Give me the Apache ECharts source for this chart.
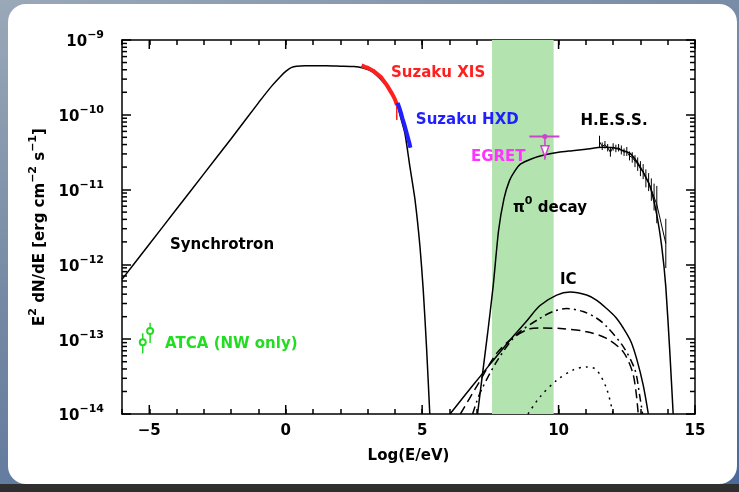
<!DOCTYPE html>
<html><head><meta charset="utf-8">
<script src="https://cdn.jsdelivr.net/npm/echarts@6/dist/echarts.min.js"></script>
<style>
html,body{margin:0;padding:0;width:739px;height:492px;overflow:hidden;}
body{background:linear-gradient(160deg,#9aa8b8 0%,#7489a4 40%,#4b6898 100%);position:relative;}
#bottom{position:absolute;left:0;right:0;bottom:0;height:8px;background:#2f2f2f;}
#panel{position:absolute;left:8px;top:4px;width:729px;height:480px;background:#fff;border-radius:18px;}
#chart{position:absolute;left:0;top:0;width:739px;height:492px;}
</style></head><body>
<div id="bottom"></div><div id="panel"></div><div id="chart"></div>
<script>
// ---- data (x = log10(E/eV), y = log10(E^2 dN/dE [erg cm^-2 s^-1])) ----
const bandStart = 7.56, bandEnd = 9.82;

const synX = [-6,-5,-4,-3,-2,-1,-0.5,-0.2,0,0.2,0.4,0.7,1,1.5,2,2.5,2.8,3.1,3.33,3.7,4.07,4.2,4.37,4.55,4.74,4.92,5.04,5.16,5.28];
const synY = [-12.2,-11.73,-11.26,-10.79,-10.32,-9.84,-9.61,-9.49,-9.42,-9.37,-9.35,-9.345,-9.345,-9.345,-9.35,-9.355,-9.37,-9.41,-9.47,-9.62,-9.85,-10.02,-10.25,-10.69,-11.14,-11.76,-12.34,-13.1,-14];

const xisX = [2.78,2.9,3.0,3.1,3.2,3.3,3.4,3.5,3.6,3.7,3.8,3.9,4.0,4.08];
const xisY = [-9.34,-9.36,-9.37,-9.39,-9.41,-9.44,-9.47,-9.5,-9.55,-9.6,-9.66,-9.72,-9.79,-9.87];
const xisErrX = [4.07], xisErrLo = [-10.07], xisErrHi = [-9.85];

const hxdX = [4.1,4.16,4.22,4.28,4.34,4.4,4.46,4.52,4.57];
const hxdY = [-9.84,-9.9,-9.97,-10.05,-10.12,-10.2,-10.28,-10.36,-10.44];

const pionX = [7.03,7.2,7.4,7.6,7.8,8.0,8.2,8.4,8.6,9.0,9.5,10.0,10.5,11.0,11.6,12.0,12.3,12.62,12.98,13.35,13.59,13.78,13.93,14.08,14.2];
const pionY = [-14,-13.5,-12.92,-12.3,-11.55,-11.12,-10.88,-10.75,-10.66,-10.59,-10.535,-10.5,-10.48,-10.46,-10.435,-10.44,-10.47,-10.515,-10.69,-10.96,-11.32,-11.76,-12.3,-13.19,-14];

const hessX = [11.5,11.6,11.7,11.8,11.9,12.0,12.1,12.2,12.3,12.4,12.5,12.6,12.7,12.8,12.9,13.0,13.1,13.2,13.3,13.4,13.5,13.6,13.93];
const hessY = [-10.36,-10.42,-10.4,-10.44,-10.5,-10.43,-10.45,-10.44,-10.47,-10.5,-10.49,-10.55,-10.57,-10.62,-10.66,-10.72,-10.76,-10.85,-10.9,-11.0,-11.1,-11.2,-11.72];
const hessErr = [0.08,0.05,0.05,0.05,0.06,0.05,0.05,0.05,0.06,0.05,0.06,0.06,0.07,0.08,0.09,0.1,0.1,0.12,0.12,0.15,0.18,0.25,0.33];

const icX = [6.02,6.5,7.12,7.7,8.34,8.8,9.32,9.93,10.42,11.03,11.4,11.76,12.1,12.37,12.65,12.86,13.1,13.29];
const icY = [-14,-13.78,-13.5,-13.24,-12.96,-12.77,-12.55,-12.41,-12.37,-12.41,-12.48,-12.59,-12.71,-12.85,-13.03,-13.26,-13.61,-14];

const icDashDotX = [6.85,7.12,7.73,8.46,9.32,9.8,10.29,10.9,11.4,11.76,12.37,12.8,12.98,13.08];
const icDashDotY = [-14,-13.72,-13.3,-12.94,-12.72,-12.63,-12.59,-12.63,-12.72,-12.83,-13.1,-13.41,-13.77,-14];

const icDashX = [6.4,7.0,7.73,8.3,8.95,9.32,10.17,11.03,11.76,12.37,12.74,12.92];
const icDashY = [-14,-13.63,-13.19,-12.99,-12.86,-12.85,-12.86,-12.9,-12.99,-13.17,-13.48,-14];

const icDotX = [8.88,9.32,9.93,10.54,11.03,11.39,11.76,12.0];
const icDotY = [-14,-13.77,-13.55,-13.41,-13.37,-13.41,-13.66,-14];

const egretX = 9.5, egretY = -10.29, egretXLo = 8.93, egretXHi = 10.03, egretTipY = -10.6, egretMarkY = -10.48;

const atcaX = [-5.24,-4.97];
const atcaY = [-13.04,-12.89];
const atcaLo = [-13.19,-13.05];
const atcaHi = [-12.92,-12.78];

const xMajorTicks = [-5,0,5,10,15];
const yMajorTicks = [-14,-13,-12,-11,-10,-9];

const labelText = ['Suzaku XIS','Suzaku HXD','H.E.S.S.','EGRET','{p|π}{s|0}{p| decay}','Synchrotron','IC','ATCA (NW only)'];
const labelX = [3.86,4.77,10.8,6.79,8.33,-4.24,10.05,-4.42];
const labelY = [-9.44,-10.07,-10.09,-10.56,-11.21,-11.74,-12.21,-13.07];
const labelColor = ['#ff1f1f','#1f1fff','#000000','#ff33ff','#000000','#000000','#000000','#22dd22'];

// ---- build ----
const FONT = 'DejaVu Sans';
const X_MIN = -6, X_MAX = 15, Y_MIN = -14, Y_MAX = -9;
const pairs = (xs, ys) => xs.map((x, i) => [x, ys[i]]);
const yMinor = []; for (let n = Y_MIN; n < Y_MAX; n++) for (let k = 2; k <= 9; k++) yMinor.push(n + Math.log10(k));

// extra ticks: taller x ticks at multiples of 5, log minor ticks on y (lengths in axis units)
const PX_X = 21 / 573, PX_Y = 5 / 374;
const tickLines = [];
xMajorTicks.forEach(v => {
  tickLines.push([v, Y_MIN, v, Y_MIN + 9 * PX_Y]);
  tickLines.push([v, Y_MAX, v, Y_MAX - 9 * PX_Y]);
});
yMinor.forEach(v => {
  tickLines.push([X_MIN, v, X_MIN + 5 * PX_X, v]);
  tickLines.push([X_MAX, v, X_MAX - 5 * PX_X, v]);
});

const tickStyle = { color: '#000', width: 1.5 };
const xAxis = {
  type: 'value', min: X_MIN, max: X_MAX, interval: 1, splitLine: { show: false },
  axisLine: { show: true, onZero: false, lineStyle: { color: '#000', width: 1.5 } },
  axisTick: { show: true, inside: true, length: 5, lineStyle: tickStyle },
  axisLabel: { margin: 10, color: '#000', fontFamily: FONT, fontWeight: 'bold', fontSize: 15,
    formatter: v => (xMajorTicks.indexOf(v) >= 0 ? (v < 0 ? '\u2212' + (-v) : String(v)) : '') },
  name: 'Log(E/eV)', nameLocation: 'middle', nameGap: 35,
  nameTextStyle: { fontFamily: FONT, fontWeight: 'bold', fontSize: 15, color: '#000' }
};
const xAxisTop = { type: 'value', position: 'top', min: X_MIN, max: X_MAX, interval: 1, splitLine: { show: false },
  axisLine: { show: true, onZero: false, lineStyle: { color: '#000', width: 1.5 } },
  axisTick: { show: true, inside: true, length: 5, lineStyle: tickStyle }, axisLabel: { show: false } };
const supRich = {
  a: { fontFamily: FONT, fontWeight: 'bold', fontSize: 15, color: '#000', lineHeight: 20, verticalAlign: 'bottom' },
  b: { fontFamily: FONT, fontWeight: 'bold', fontSize: 11, color: '#000', lineHeight: 20, verticalAlign: 'top' } };
const yAxis = {
  type: 'value', min: Y_MIN, max: Y_MAX, interval: 1, splitLine: { show: false },
  axisLine: { show: true, onZero: false, lineStyle: { color: '#000', width: 1.5 } },
  axisTick: { show: true, inside: true, length: 9, lineStyle: tickStyle },
  axisLabel: { margin: 18, formatter: v => '{a|10}{b|\u2212' + (-v) + '}', rich: supRich },
  name: '{a|E}{b|2}{a| dN/dE [erg cm}{b|\u22122}{a| s}{b|\u22121}{a|]}',
  nameLocation: 'middle', nameGap: 73, nameRotate: 90,
  nameTextStyle: { rich: supRich }
};
const yAxisRight = { type: 'value', position: 'right', min: Y_MIN, max: Y_MAX, interval: 1, splitLine: { show: false },
  axisLine: { show: true, onZero: false, lineStyle: { color: '#000', width: 1.5 } },
  axisTick: { show: true, inside: true, length: 9, lineStyle: tickStyle }, axisLabel: { show: false } };

function lineSeries(name, xs, ys, color, width, type, z, smooth) {
  return { name, type: 'line', data: pairs(xs, ys), symbol: 'none', z: z || 3, silent: true, smooth: smooth || 0,
    lineStyle: { color, width, type: type || 'solid', cap: 'butt' } };
}
function errSeries(name, xs, lo, hi, color, width) {
  return { name, type: 'custom', z: 4, silent: true,
    data: xs.map((x, i) => [x, lo[i], hi[i]]), encode: { x: 0, y: [1, 2] },
    renderItem: (params, api) => {
      const a = api.coord([api.value(0), api.value(1)]);
      const b = api.coord([api.value(0), api.value(2)]);
      return { type: 'line', shape: { x1: a[0], y1: a[1], x2: b[0], y2: b[1] }, style: { stroke: color, lineWidth: width } };
    } };
}

const tickSeries = {
  name: 'frame ticks', type: 'custom', z: 9, silent: true, data: tickLines,
  encode: { x: [0, 2], y: [1, 3] },
  renderItem: (params, api) => {
    const a = api.coord([api.value(0), api.value(1)]);
    const b = api.coord([api.value(2), api.value(3)]);
    return { type: 'line', shape: { x1: a[0], y1: a[1], x2: b[0], y2: b[1] }, style: { stroke: '#000', lineWidth: 1.5 } };
  }
};

const series = [
  { name: 'band', type: 'line', data: [[bandStart, Y_MIN]], symbol: 'none', z: 1, silent: true, lineStyle: { width: 0 },
    markArea: { silent: true, itemStyle: { color: '#b3e4b0' }, data: [[{ xAxis: bandStart }, { xAxis: bandEnd }]] } },
  tickSeries,
  lineSeries('Synchrotron', synX, synY, '#000', 1.5, 'solid', 3, 0.2),
  lineSeries('Suzaku XIS', xisX, xisY, '#ff1f1f', 4, 'solid', 5),
  errSeries('XIS err', xisErrX, xisErrLo, xisErrHi, '#ff1f1f', 1.5),
  lineSeries('Suzaku HXD', hxdX, hxdY, '#1f1fff', 4, 'solid', 5),
  lineSeries('pi0', pionX, pionY, '#000', 1.5, 'solid', 3, 0.2),
  lineSeries('HESS', hessX, hessY, '#000', 1, 'solid', 4),
  errSeries('HESS err', hessX, hessY.map((y, i) => y - hessErr[i]), hessY.map((y, i) => y + hessErr[i]), '#000', 1),
  lineSeries('IC', icX, icY, '#000', 1.5, 'solid', 3, 0.3),
  lineSeries('IC dashdot', icDashDotX, icDashDotY, '#000', 1.5, [8, 4, 2, 4], 3, 0.3),
  lineSeries('IC dash', icDashX, icDashY, '#000', 1.5, [9, 5], 3, 0.3),
  lineSeries('IC dot', icDotX, icDotY, '#000', 1.5, [2, 5], 3, 0.3),
  { name: 'EGRET', type: 'custom', z: 6, silent: true,
    data: [[egretX, egretY, egretXLo, egretXHi, egretTipY, egretMarkY]], encode: { x: 0, y: 1 },
    renderItem: (params, api) => {
      const c = '#cc44cc';
      const p = api.coord([api.value(0), api.value(1)]);
      const l = api.coord([api.value(2), api.value(1)]);
      const r = api.coord([api.value(3), api.value(1)]);
      const t = api.coord([api.value(0), api.value(4)]);
      const m = api.coord([api.value(0), api.value(5)]);
      return { type: 'group', children: [
        { type: 'line', shape: { x1: l[0], y1: l[1], x2: r[0], y2: r[1] }, style: { stroke: c, lineWidth: 2 } },
        { type: 'line', shape: { x1: p[0], y1: p[1], x2: t[0], y2: t[1] }, style: { stroke: c, lineWidth: 1.5 } },
        { type: 'circle', shape: { cx: p[0], cy: p[1], r: 2.5 }, style: { fill: c } },
        { type: 'polygon', shape: { points: [[m[0] - 4, m[1] - 5], [m[0] + 4, m[1] - 5], [m[0], m[1] + 6]] }, style: { fill: '#fff', stroke: c, lineWidth: 1.5 } }
      ] };
    } },
  errSeries('ATCA err', atcaX, atcaLo, atcaHi, '#22dd22', 1.5),
  { name: 'ATCA', type: 'scatter', data: pairs(atcaX, atcaY), symbol: 'emptyCircle', symbolSize: 6, z: 6, silent: true,
    itemStyle: { color: '#22dd22', borderColor: '#22dd22', borderWidth: 1.5, opacity: 1 } },
  { name: 'labels', type: 'scatter', symbolSize: 0, z: 10, silent: true, itemStyle: { opacity: 1 },
    data: labelText.map((t, i) => ({ value: [labelX[i], labelY[i]],
      label: { show: true, position: 'right', distance: 0, formatter: t, color: labelColor[i],
        fontFamily: FONT, fontWeight: 'bold', fontSize: 15,
        rich: { p: { fontFamily: FONT, fontWeight: 'bold', fontSize: 15, color: '#000', lineHeight: 20, verticalAlign: 'bottom' },
                s: { fontFamily: FONT, fontWeight: 'bold', fontSize: 11, color: '#000', lineHeight: 20, verticalAlign: 'top' } } } })) }
];

const chart = echarts.init(document.getElementById('chart'));
chart.setOption({
  backgroundColor: 'transparent',
  animation: false,
  grid: { left: 122, right: 44, top: 40, bottom: 78 },
  xAxis: [xAxis, xAxisTop],
  yAxis: [yAxis, yAxisRight],
  series
});
</script>
</body></html>
